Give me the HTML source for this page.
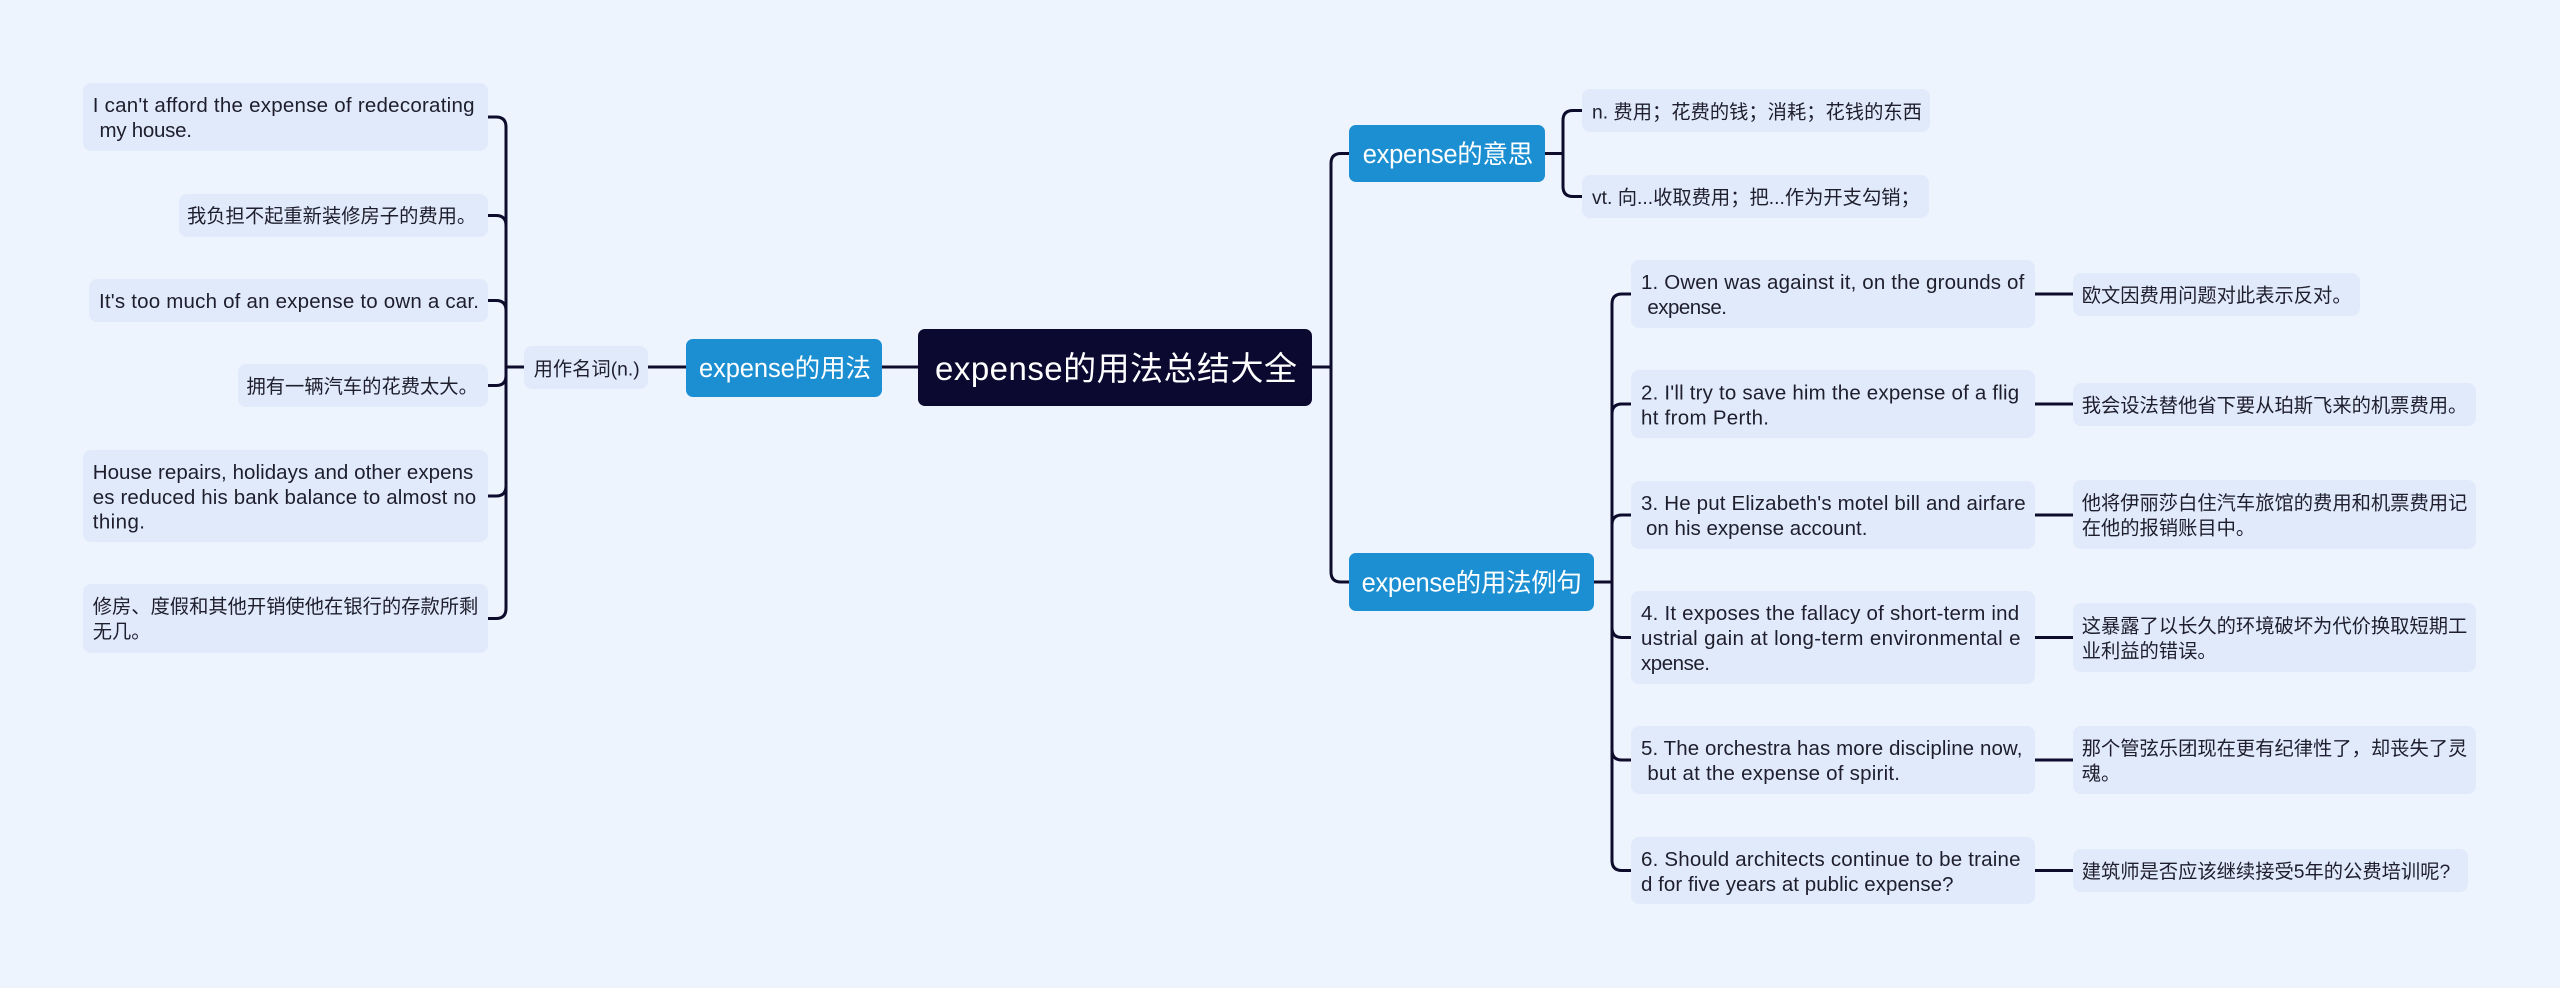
<!DOCTYPE html>
<html>
<head>
<meta charset="utf-8">
<style>
html,body{margin:0;padding:0;background:#EEF4FE;}
svg{display:block;}
text{font-family:"Liberation Sans","Noto Sans CJK SC",sans-serif;}
.t{font-size:19.3px;fill:#1e1e2c;}
.e{font-size:20.5px;fill:#1e1e2c;}
.p{font-size:25.5px;fill:#ffffff;}
.c{font-size:33px;fill:#ffffff;}
.leaf{fill:#E1EAFB;}
.pri{fill:#1B8FD2;}
.ln{fill:none;stroke:#0E0C2C;stroke-width:3;stroke-linecap:round;stroke-linejoin:round;}
</style>
</head>
<body>
<svg width="2560" height="988" viewBox="0 0 2560 988" xmlns="http://www.w3.org/2000/svg">
<rect x="0" y="0" width="2560" height="988" fill="#EEF4FE"/>

<!-- connectors -->
<g class="ln">
  <!-- left bracket: parent (524,367) bx 506 child edge 488 -->
  <path d="M524,367 H506 V127 Q506,117 496,117 H488"/>
  <path d="M524,367 H506 V225.5 Q506,215.5 496,215.5 H488"/>
  <path d="M524,367 H506 V310.5 Q506,300.5 496,300.5 H488"/>
  <path d="M524,367 H506 V375.5 Q506,385.5 496,385.5 H488"/>
  <path d="M524,367 H506 V486 Q506,496 496,496 H488"/>
  <path d="M524,367 H506 V608.5 Q506,618.5 496,618.5 H488"/>
  <path d="M648,367 H686"/>
  <path d="M882,367 H919"/>
  <!-- right trunk -->
  <path d="M1312,367 H1331 V163.5 Q1331,153.5 1341,153.5 H1349"/>
  <path d="M1312,367 H1331 V572 Q1331,582 1341,582 H1349"/>
  <!-- meaning bracket -->
  <path d="M1545,153.5 H1563 V120.5 Q1563,110.5 1573,110.5 H1582"/>
  <path d="M1545,153.5 H1563 V186.5 Q1563,196.5 1573,196.5 H1582"/>
  <!-- examples bracket -->
  <path d="M1594,582 H1612 V304 Q1612,294 1622,294 H1631"/>
  <path d="M1594,582 H1612 V414 Q1612,404 1622,404 H1631"/>
  <path d="M1594,582 H1612 V525 Q1612,515 1622,515 H1631"/>
  <path d="M1594,582 H1612 V627.5 Q1612,637.5 1622,637.5 H1631"/>
  <path d="M1594,582 H1612 V750 Q1612,760 1622,760 H1631"/>
  <path d="M1594,582 H1612 V860.5 Q1612,870.5 1622,870.5 H1631"/>
  <!-- example -> translation -->
  <path d="M2035,294 H2073"/>
  <path d="M2035,404 H2073"/>
  <path d="M2035,515 H2073"/>
  <path d="M2035,637.5 H2073"/>
  <path d="M2035,760 H2073"/>
  <path d="M2035,870.5 H2073"/>
</g>

<!-- central -->
<rect x="918" y="329" width="394" height="77" rx="7" fill="#0B0930"/>
<text class="c" x="935" y="380" textLength="362">expense的用法总结大全</text>

<!-- primary nodes -->
<rect class="pri" x="686" y="339" width="196" height="58" rx="7"/>
<text class="p" x="699" y="377" textLength="172">expense的用法</text>

<rect class="pri" x="1349" y="125" width="196" height="57" rx="7"/>
<text class="p" x="1362.7" y="163" textLength="170.6">expense的意思</text>

<rect class="pri" x="1349" y="553" width="245" height="58" rx="7"/>
<text class="p" x="1361.6" y="591.5" textLength="220.3">expense的用法例句</text>

<!-- 用作名词 -->
<rect class="leaf" x="524" y="346" width="124" height="43" rx="8"/>
<text class="t" x="533.6" y="375.5">用作名词(n.)</text>

<!-- left leaves -->
<rect class="leaf" x="83" y="83" width="405" height="68" rx="8"/>
<text class="e" x="92.7" y="112" textLength="381.8">I can't afford the expense of redecorating</text>
<text class="e" x="99.5" y="137" textLength="92.5">my house.</text>

<rect class="leaf" x="179" y="194" width="309" height="43" rx="8"/>
<text class="t" x="187" y="222.5">我负担不起重新装修房子的费用。</text>

<rect class="leaf" x="89" y="279" width="399" height="43" rx="8"/>
<text class="e" x="99" y="308" textLength="380">It's too much of an expense to own a car.</text>

<rect class="leaf" x="238" y="364" width="250" height="43" rx="8"/>
<text class="t" x="246.5" y="393">拥有一辆汽车的花费太大。</text>

<rect class="leaf" x="83" y="450" width="405" height="92" rx="8"/>
<text class="e" x="92.7" y="479" textLength="380.6">House repairs, holidays and other expens</text>
<text class="e" x="92.7" y="504" textLength="383.5">es reduced his bank balance to almost no</text>
<text class="e" x="92.7" y="528.5" textLength="52.3">thing.</text>

<rect class="leaf" x="83" y="584" width="405" height="69" rx="8"/>
<text class="t" x="92.7" y="613">修房、度假和其他开销使他在银行的存款所剩</text>
<text class="t" x="92.7" y="638">无几。</text>

<!-- meaning leaves -->
<rect class="leaf" x="1582" y="89" width="348" height="43" rx="8"/>
<text class="t" x="1592" y="118.5">n. 费用；花费的钱；消耗；花钱的东西</text>

<rect class="leaf" x="1582" y="175" width="347" height="43" rx="8"/>
<text class="t" x="1592" y="204">vt. 向...收取费用；把...作为开支勾销；</text>

<!-- examples -->
<rect class="leaf" x="1631" y="260" width="404" height="68" rx="8"/>
<text class="e" x="1641" y="289" textLength="383.3">1. Owen was against it, on the grounds of</text>
<text class="e" x="1647.4" y="314" textLength="79.6">expense.</text>

<rect class="leaf" x="1631" y="370" width="404" height="68" rx="8"/>
<text class="e" x="1641" y="399.5" textLength="378.2">2. I'll try to save him the expense of a flig</text>
<text class="e" x="1641" y="424.5" textLength="128">ht from Perth.</text>

<rect class="leaf" x="1631" y="481" width="404" height="68" rx="8"/>
<text class="e" x="1641" y="510" textLength="384.6">3. He put Elizabeth's motel bill and airfare</text>
<text class="e" x="1646" y="535" textLength="221.4">on his expense account.</text>

<rect class="leaf" x="1631" y="591" width="404" height="93" rx="8"/>
<text class="e" x="1641" y="620" textLength="378.2">4. It exposes the fallacy of short-term ind</text>
<text class="e" x="1641" y="645" textLength="379.5">ustrial gain at long-term environmental e</text>
<text class="e" x="1641" y="670" textLength="69">xpense.</text>

<rect class="leaf" x="1631" y="726" width="404" height="68" rx="8"/>
<text class="e" x="1641" y="755" textLength="381.4">5. The orchestra has more discipline now,</text>
<text class="e" x="1647.4" y="780" textLength="252.6">but at the expense of spirit.</text>

<rect class="leaf" x="1631" y="837" width="404" height="67" rx="8"/>
<text class="e" x="1641" y="866" textLength="379.5">6. Should architects continue to be traine</text>
<text class="e" x="1641" y="891" textLength="312.5">d for five years at public expense?</text>

<!-- translations -->
<rect class="leaf" x="2073" y="273" width="287" height="43" rx="8"/>
<text class="t" x="2081.7" y="302">欧文因费用问题对此表示反对。</text>

<rect class="leaf" x="2073" y="383" width="403" height="43" rx="8"/>
<text class="t" x="2081.7" y="412">我会设法替他省下要从珀斯飞来的机票费用。</text>

<rect class="leaf" x="2073" y="480" width="403" height="69" rx="8"/>
<text class="t" x="2081.7" y="509.5">他将伊丽莎白住汽车旅馆的费用和机票费用记</text>
<text class="t" x="2081.7" y="534.5">在他的报销账目中。</text>

<rect class="leaf" x="2073" y="603" width="403" height="69" rx="8"/>
<text class="t" x="2081.7" y="632.5">这暴露了以长久的环境破坏为代价换取短期工</text>
<text class="t" x="2081.7" y="657.5">业利益的错误。</text>

<rect class="leaf" x="2073" y="726" width="403" height="68" rx="8"/>
<text class="t" x="2081.7" y="755">那个管弦乐团现在更有纪律性了，却丧失了灵</text>
<text class="t" x="2081.7" y="780">魂。</text>

<rect class="leaf" x="2073" y="849" width="395" height="43" rx="8"/>
<text class="t" x="2081.7" y="878">建筑师是否应该继续接受5年的公费培训呢?</text>
</svg>
</body>
</html>
